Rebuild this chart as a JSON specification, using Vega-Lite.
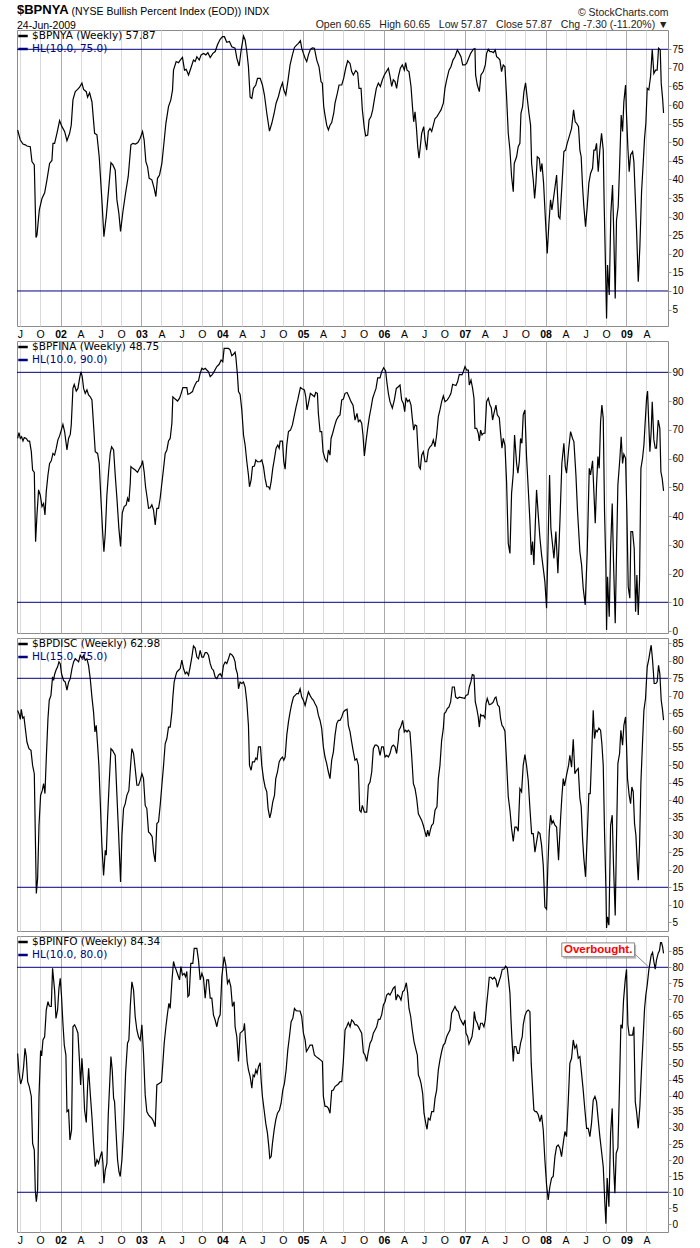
{
"$schema": "https://vega.github.io/schema/vega-lite/v6.json",
"background": "white",
"padding": {"left": 14, "top": 4, "right": 5, "bottom": 4},
"config": {
  "view": {"stroke": "#8c8c8c", "strokeWidth": 1},
  "font": "Liberation Sans",
  "axis": {"labelOverlap": false},
  "legend": {"title": null, "orient": "top-left", "offset": 0, "padding": 0, "symbolType": "stroke", "symbolSize": 90, "symbolStrokeWidth": 2.5, "labelFont": "DejaVu Sans", "labelFontSize": 10.5, "labelOffset": 3, "rowPadding": 1, "labelColor": "#000", "labelLimit": 300},
  "axisY": {"grid": true, "gridColor": "#d9d9d9", "domain": false, "ticks": true, "tickSize": 3, "tickColor": "#999", "labelPadding": 1, "labelFontSize": 10, "labelColor": "#000", "labelFont": "Liberation Sans", "labelFlush": false, "labelOverlap": false, "labelBound": false},
  "axisX": {"grid": true, "ticks": false, "domain": false, "labelPadding": 3, "labelFontSize": 10.5, "labelColor": "#000", "labelFont": "Liberation Sans", "labelFlush": false, "labelOverlap": false, "labelBound": false}
},
"datasets": {
"nya": [
{"yr":2001.469,"pct":53.3},{"yr":2001.502,"pct":50.6},{"yr":2001.535,"pct":49.5},{"yr":2001.564,"pct":49.3},{"yr":2001.584,"pct":49.0},{"yr":2001.625,"pct":48.8},{"yr":2001.646,"pct":44.8},{"yr":2001.675,"pct":43.9},{"yr":2001.696,"pct":24.4},{"yr":2001.708,"pct":25.0},{"yr":2001.737,"pct":31.8},{"yr":2001.770,"pct":34.9},{"yr":2001.803,"pct":36.4},{"yr":2001.831,"pct":39.8},{"yr":2001.864,"pct":44.3},{"yr":2001.893,"pct":45.1},{"yr":2001.906,"pct":49.7},{"yr":2001.926,"pct":49.7},{"yr":2001.955,"pct":52.4},{"yr":2001.988,"pct":55.8},{"yr":2002.017,"pct":54.2},{"yr":2002.050,"pct":52.9},{"yr":2002.079,"pct":50.4},{"yr":2002.112,"pct":52.4},{"yr":2002.132,"pct":54.6},{"yr":2002.153,"pct":61.4},{"yr":2002.182,"pct":63.6},{"yr":2002.211,"pct":64.2},{"yr":2002.235,"pct":64.8},{"yr":2002.264,"pct":65.9},{"yr":2002.285,"pct":64.2},{"yr":2002.318,"pct":63.6},{"yr":2002.334,"pct":62.1},{"yr":2002.359,"pct":63.3},{"yr":2002.388,"pct":60.9},{"yr":2002.421,"pct":52.4},{"yr":2002.450,"pct":52.0},{"yr":2002.478,"pct":46.1},{"yr":2002.511,"pct":34.5},{"yr":2002.536,"pct":24.6},{"yr":2002.565,"pct":30.0},{"yr":2002.594,"pct":37.2},{"yr":2002.623,"pct":44.5},{"yr":2002.647,"pct":43.9},{"yr":2002.676,"pct":42.5},{"yr":2002.697,"pct":34.5},{"yr":2002.721,"pct":30.9},{"yr":2002.742,"pct":26.0},{"yr":2002.771,"pct":31.3},{"yr":2002.804,"pct":36.3},{"yr":2002.837,"pct":40.8},{"yr":2002.870,"pct":49.3},{"yr":2002.894,"pct":49.7},{"yr":2002.927,"pct":49.5},{"yr":2002.956,"pct":49.9},{"yr":2002.985,"pct":51.1},{"yr":2003.014,"pct":52.9},{"yr":2003.034,"pct":50.6},{"yr":2003.055,"pct":44.8},{"yr":2003.076,"pct":43.4},{"yr":2003.096,"pct":40.3},{"yr":2003.129,"pct":39.9},{"yr":2003.158,"pct":37.6},{"yr":2003.179,"pct":35.4},{"yr":2003.199,"pct":40.3},{"yr":2003.224,"pct":41.2},{"yr":2003.253,"pct":44.3},{"yr":2003.274,"pct":48.8},{"yr":2003.303,"pct":55.1},{"yr":2003.335,"pct":59.6},{"yr":2003.364,"pct":61.4},{"yr":2003.385,"pct":64.1},{"yr":2003.397,"pct":69.4},{"yr":2003.430,"pct":71.7},{"yr":2003.459,"pct":71.4},{"yr":2003.480,"pct":72.1},{"yr":2003.508,"pct":72.8},{"yr":2003.533,"pct":69.4},{"yr":2003.554,"pct":69.6},{"yr":2003.583,"pct":68.1},{"yr":2003.611,"pct":69.9},{"yr":2003.644,"pct":72.1},{"yr":2003.665,"pct":71.7},{"yr":2003.686,"pct":73.0},{"yr":2003.715,"pct":72.1},{"yr":2003.739,"pct":73.5},{"yr":2003.768,"pct":73.9},{"yr":2003.797,"pct":73.5},{"yr":2003.822,"pct":74.1},{"yr":2003.851,"pct":72.8},{"yr":2003.884,"pct":73.9},{"yr":2003.913,"pct":74.4},{"yr":2003.941,"pct":76.2},{"yr":2003.974,"pct":77.7},{"yr":2004.003,"pct":78.4},{"yr":2004.027,"pct":78.4},{"yr":2004.056,"pct":76.9},{"yr":2004.089,"pct":77.1},{"yr":2004.118,"pct":75.7},{"yr":2004.159,"pct":75.3},
{"yr":2004.180,"pct":72.6},{"yr":2004.209,"pct":70.5},{"yr":2004.234,"pct":74.8},{"yr":2004.263,"pct":78.6},{"yr":2004.283,"pct":77.5},{"yr":2004.304,"pct":74.4},{"yr":2004.324,"pct":70.3},{"yr":2004.345,"pct":62.1},{"yr":2004.366,"pct":61.8},{"yr":2004.386,"pct":64.5},{"yr":2004.415,"pct":65.4},{"yr":2004.436,"pct":67.2},{"yr":2004.469,"pct":67.2},{"yr":2004.497,"pct":65.4},{"yr":2004.522,"pct":62.7},{"yr":2004.551,"pct":57.8},{"yr":2004.584,"pct":53.0},{"yr":2004.613,"pct":55.1},{"yr":2004.642,"pct":57.8},{"yr":2004.666,"pct":60.5},{"yr":2004.695,"pct":62.3},{"yr":2004.720,"pct":64.5},{"yr":2004.745,"pct":66.0},{"yr":2004.761,"pct":64.1},{"yr":2004.786,"pct":62.7},{"yr":2004.811,"pct":66.3},{"yr":2004.839,"pct":70.8},{"yr":2004.868,"pct":73.5},{"yr":2004.893,"pct":75.5},{"yr":2004.922,"pct":76.2},{"yr":2004.942,"pct":76.6},{"yr":2004.967,"pct":77.3},{"yr":2004.983,"pct":75.3},{"yr":2005.004,"pct":73.9},{"yr":2005.025,"pct":72.6},{"yr":2005.045,"pct":71.7},{"yr":2005.066,"pct":73.5},{"yr":2005.090,"pct":75.0},{"yr":2005.115,"pct":75.4},{"yr":2005.140,"pct":75.3},{"yr":2005.169,"pct":72.1},{"yr":2005.197,"pct":70.3},{"yr":2005.222,"pct":66.3},{"yr":2005.238,"pct":65.9},{"yr":2005.255,"pct":59.6},{"yr":2005.271,"pct":57.3},{"yr":2005.292,"pct":54.6},{"yr":2005.313,"pct":53.3},{"yr":2005.333,"pct":54.6},{"yr":2005.354,"pct":55.3},{"yr":2005.379,"pct":57.8},{"yr":2005.395,"pct":60.5},{"yr":2005.424,"pct":63.2},{"yr":2005.445,"pct":65.4},{"yr":2005.478,"pct":65.4},{"yr":2005.502,"pct":67.2},{"yr":2005.527,"pct":69.9},{"yr":2005.552,"pct":71.9},{"yr":2005.581,"pct":71.2},{"yr":2005.601,"pct":69.0},{"yr":2005.622,"pct":68.1},{"yr":2005.651,"pct":69.3},{"yr":2005.675,"pct":68.7},{"yr":2005.692,"pct":64.5},{"yr":2005.717,"pct":64.5},{"yr":2005.733,"pct":58.7},{"yr":2005.758,"pct":53.7},{"yr":2005.774,"pct":51.7},{"yr":2005.799,"pct":51.9},{"yr":2005.816,"pct":56.0},{"yr":2005.840,"pct":56.9},{"yr":2005.861,"pct":58.7},{"yr":2005.881,"pct":61.4},{"yr":2005.906,"pct":64.5},{"yr":2005.931,"pct":65.9},{"yr":2005.956,"pct":65.0},{"yr":2005.981,"pct":66.8},{"yr":2006.005,"pct":68.1},{"yr":2006.030,"pct":69.0},{"yr":2006.055,"pct":69.9},{"yr":2006.075,"pct":67.8},{"yr":2006.096,"pct":65.0},{"yr":2006.116,"pct":66.8},{"yr":2006.137,"pct":66.3},{"yr":2006.157,"pct":64.5},{"yr":2006.178,"pct":67.6},{"yr":2006.203,"pct":69.9},{"yr":2006.228,"pct":70.8},{"yr":2006.252,"pct":69.4},{"yr":2006.269,"pct":71.4},{"yr":2006.286,"pct":69.4},{"yr":2006.310,"pct":69.0},{"yr":2006.335,"pct":65.0},{"yr":2006.356,"pct":58.7},{"yr":2006.368,"pct":55.5},{"yr":2006.385,"pct":58.2},{"yr":2006.401,"pct":54.2},{"yr":2006.418,"pct":48.8},{"yr":2006.434,"pct":45.7},{"yr":2006.450,"pct":48.8},{"yr":2006.467,"pct":52.4},{"yr":2006.492,"pct":54.2},{"yr":2006.508,"pct":50.6},{"yr":2006.529,"pct":47.9},{"yr":2006.549,"pct":52.9},{"yr":2006.570,"pct":53.7},{"yr":2006.591,"pct":52.9},{"yr":2006.611,"pct":54.6},{"yr":2006.632,"pct":56.4},{"yr":2006.656,"pct":56.9},{"yr":2006.681,"pct":57.8},{"yr":2006.706,"pct":58.7},{"yr":2006.735,"pct":60.5},{"yr":2006.755,"pct":64.5},{"yr":2006.776,"pct":66.8},{"yr":2006.805,"pct":69.4},{"yr":2006.829,"pct":70.3},{"yr":2006.854,"pct":72.1},{"yr":2006.879,"pct":73.0},{"yr":2006.908,"pct":74.8},{"yr":2006.932,"pct":73.9},
{"yr":2006.953,"pct":73.0},{"yr":2006.974,"pct":70.8},{"yr":2007.003,"pct":70.8},{"yr":2007.023,"pct":71.2},{"yr":2007.048,"pct":72.6},{"yr":2007.073,"pct":73.9},{"yr":2007.106,"pct":75.0},{"yr":2007.126,"pct":75.2},{"yr":2007.134,"pct":68.1},{"yr":2007.155,"pct":65.4},{"yr":2007.180,"pct":63.6},{"yr":2007.200,"pct":68.1},{"yr":2007.229,"pct":69.0},{"yr":2007.254,"pct":70.8},{"yr":2007.270,"pct":73.9},{"yr":2007.291,"pct":75.0},{"yr":2007.311,"pct":74.4},{"yr":2007.332,"pct":74.4},{"yr":2007.353,"pct":74.1},{"yr":2007.377,"pct":74.8},{"yr":2007.394,"pct":73.0},{"yr":2007.418,"pct":72.6},{"yr":2007.435,"pct":72.1},{"yr":2007.455,"pct":69.0},{"yr":2007.476,"pct":70.8},{"yr":2007.497,"pct":70.3},{"yr":2007.517,"pct":62.3},{"yr":2007.538,"pct":52.4},{"yr":2007.559,"pct":47.9},{"yr":2007.579,"pct":40.8},{"yr":2007.600,"pct":36.7},{"yr":2007.612,"pct":44.3},{"yr":2007.641,"pct":46.1},{"yr":2007.661,"pct":48.8},{"yr":2007.682,"pct":49.7},{"yr":2007.695,"pct":57.8},{"yr":2007.715,"pct":59.6},{"yr":2007.732,"pct":63.6},{"yr":2007.752,"pct":66.0},{"yr":2007.773,"pct":61.8},{"yr":2007.794,"pct":57.8},{"yr":2007.814,"pct":54.6},{"yr":2007.827,"pct":44.3},{"yr":2007.847,"pct":39.9},{"yr":2007.864,"pct":34.9},{"yr":2007.880,"pct":39.0},{"yr":2007.897,"pct":46.1},{"yr":2007.922,"pct":45.6},{"yr":2007.938,"pct":42.1},{"yr":2007.955,"pct":44.3},{"yr":2007.975,"pct":39.0},{"yr":2007.996,"pct":30.0},{"yr":2008.020,"pct":20.1},{"yr":2008.041,"pct":28.2},{"yr":2008.061,"pct":34.5},{"yr":2008.078,"pct":31.8},{"yr":2008.103,"pct":35.8},{"yr":2008.136,"pct":41.2},{"yr":2008.160,"pct":30.0},{"yr":2008.177,"pct":29.5},{"yr":2008.201,"pct":38.1},{"yr":2008.226,"pct":47.5},{"yr":2008.247,"pct":47.9},{"yr":2008.267,"pct":49.7},{"yr":2008.292,"pct":51.5},{"yr":2008.321,"pct":53.7},{"yr":2008.346,"pct":58.7},{"yr":2008.366,"pct":55.5},{"yr":2008.383,"pct":55.1},{"yr":2008.407,"pct":54.2},{"yr":2008.424,"pct":47.9},{"yr":2008.440,"pct":46.1},{"yr":2008.457,"pct":38.1},{"yr":2008.473,"pct":32.7},{"yr":2008.494,"pct":27.3},{"yr":2008.515,"pct":32.7},{"yr":2008.535,"pct":39.0},{"yr":2008.556,"pct":41.6},{"yr":2008.581,"pct":43.0},{"yr":2008.597,"pct":47.9},{"yr":2008.614,"pct":47.9},{"yr":2008.630,"pct":49.7},{"yr":2008.651,"pct":42.1},{"yr":2008.671,"pct":47.9},{"yr":2008.692,"pct":52.4},{"yr":2008.713,"pct":47.9},{"yr":2008.725,"pct":32.7},{"yr":2008.741,"pct":16.5},{"yr":2008.754,"pct":2.6},{"yr":2008.766,"pct":17.0},{"yr":2008.787,"pct":8.9},{"yr":2008.807,"pct":30.9},{"yr":2008.828,"pct":38.5},{"yr":2008.845,"pct":23.7},{"yr":2008.861,"pct":8.0},{"yr":2008.877,"pct":29.1},{"yr":2008.898,"pct":32.7},{"yr":2008.915,"pct":43.4},{"yr":2008.935,"pct":57.3},{"yr":2008.952,"pct":52.9},{"yr":2008.968,"pct":60.9},{"yr":2008.989,"pct":65.4},{"yr":2009.001,"pct":57.3},{"yr":2009.018,"pct":48.4},{"yr":2009.034,"pct":42.1},{"yr":2009.051,"pct":46.6},{"yr":2009.076,"pct":47.5},{"yr":2009.092,"pct":44.8},{"yr":2009.109,"pct":35.4},{"yr":2009.125,"pct":26.4},{"yr":2009.146,"pct":12.5},{"yr":2009.166,"pct":21.9},{"yr":2009.187,"pct":36.7},{"yr":2009.207,"pct":44.3},{"yr":2009.224,"pct":51.1},{"yr":2009.240,"pct":55.1},{"yr":2009.257,"pct":64.5},{"yr":2009.277,"pct":64.1},{"yr":2009.298,"pct":67.6},{"yr":2009.319,"pct":75.0},{"yr":2009.339,"pct":68.5},{"yr":2009.360,"pct":69.4},{"yr":2009.380,"pct":69.4},{"yr":2009.397,"pct":75.3},{"yr":2009.418,"pct":74.8},{"yr":2009.430,"pct":65.9},{"yr":2009.447,"pct":61.8},{"yr":2009.459,"pct":57.87}
],
"fina": [
{"yr":2001.469,"pct":67.0},{"yr":2001.485,"pct":69.0},{"yr":2001.502,"pct":67.0},{"yr":2001.518,"pct":67.6},{"yr":2001.535,"pct":66.1},{"yr":2001.551,"pct":67.3},{"yr":2001.576,"pct":67.0},{"yr":2001.597,"pct":66.1},{"yr":2001.617,"pct":66.1},{"yr":2001.638,"pct":62.4},{"yr":2001.654,"pct":56.0},{"yr":2001.675,"pct":55.2},{"yr":2001.691,"pct":31.1},{"yr":2001.708,"pct":40.4},{"yr":2001.728,"pct":49.1},{"yr":2001.749,"pct":47.3},{"yr":2001.770,"pct":43.3},{"yr":2001.790,"pct":44.4},{"yr":2001.807,"pct":40.4},{"yr":2001.823,"pct":48.5},{"yr":2001.844,"pct":54.3},{"yr":2001.864,"pct":58.3},{"yr":2001.885,"pct":59.2},{"yr":2001.906,"pct":61.8},{"yr":2001.926,"pct":61.2},{"yr":2001.947,"pct":63.6},{"yr":2001.967,"pct":66.5},{"yr":2001.988,"pct":67.9},{"yr":2002.009,"pct":69.9},{"yr":2002.029,"pct":71.9},{"yr":2002.050,"pct":69.4},{"yr":2002.079,"pct":63.0},{"yr":2002.099,"pct":67.0},{"yr":2002.120,"pct":68.4},{"yr":2002.132,"pct":71.7},{"yr":2002.153,"pct":84.4},{"yr":2002.169,"pct":85.8},{"yr":2002.194,"pct":83.5},{"yr":2002.215,"pct":84.4},{"yr":2002.235,"pct":87.9},{"yr":2002.252,"pct":90.2},{"yr":2002.268,"pct":88.5},{"yr":2002.285,"pct":84.4},{"yr":2002.305,"pct":82.7},{"yr":2002.326,"pct":83.9},{"yr":2002.346,"pct":82.1},{"yr":2002.367,"pct":81.5},{"yr":2002.388,"pct":80.4},{"yr":2002.408,"pct":71.7},{"yr":2002.429,"pct":62.4},{"yr":2002.458,"pct":61.8},{"yr":2002.478,"pct":58.3},{"yr":2002.499,"pct":46.2},{"yr":2002.520,"pct":34.6},{"yr":2002.536,"pct":27.6},{"yr":2002.553,"pct":34.0},{"yr":2002.573,"pct":47.3},{"yr":2002.594,"pct":55.4},{"yr":2002.614,"pct":61.8},{"yr":2002.631,"pct":64.1},{"yr":2002.656,"pct":63.0},{"yr":2002.676,"pct":54.3},{"yr":2002.697,"pct":46.2},{"yr":2002.721,"pct":35.8},{"yr":2002.742,"pct":29.4},{"yr":2002.763,"pct":41.0},{"yr":2002.787,"pct":43.3},{"yr":2002.812,"pct":43.9},{"yr":2002.829,"pct":46.2},{"yr":2002.845,"pct":45.0},{"yr":2002.862,"pct":51.4},{"yr":2002.870,"pct":57.2},{"yr":2002.894,"pct":56.6},{"yr":2002.923,"pct":56.0},{"yr":2002.952,"pct":55.2},{"yr":2002.977,"pct":56.6},{"yr":2003.002,"pct":57.8},{"yr":2003.014,"pct":59.3},{"yr":2003.034,"pct":55.4},{"yr":2003.051,"pct":50.2},{"yr":2003.072,"pct":46.2},{"yr":2003.088,"pct":42.7},{"yr":2003.109,"pct":42.9},{"yr":2003.129,"pct":43.9},{"yr":2003.150,"pct":42.1},{"yr":2003.171,"pct":36.9},{"yr":2003.191,"pct":42.7},{"yr":2003.212,"pct":42.7},{"yr":2003.232,"pct":46.2},{"yr":2003.253,"pct":51.4},{"yr":2003.274,"pct":56.6},{"yr":2003.294,"pct":61.8},{"yr":2003.315,"pct":63.0},{"yr":2003.335,"pct":66.1},{"yr":2003.356,"pct":67.0},{"yr":2003.377,"pct":72.3},{"yr":2003.389,"pct":81.5},{"yr":2003.418,"pct":80.7},{"yr":2003.447,"pct":80.0},{"yr":2003.472,"pct":81.0},{"yr":2003.492,"pct":82.7},{"yr":2003.513,"pct":84.7},{"yr":2003.542,"pct":84.7},{"yr":2003.562,"pct":84.7},{"yr":2003.575,"pct":82.3},{"yr":2003.604,"pct":82.7},{"yr":2003.632,"pct":83.3},{"yr":2003.644,"pct":84.4},{"yr":2003.665,"pct":85.8},{"yr":2003.686,"pct":86.8},{"yr":2003.706,"pct":87.0},{"yr":2003.727,"pct":89.7},{"yr":2003.748,"pct":91.4},{"yr":2003.768,"pct":91.0},{"yr":2003.789,"pct":91.4},{"yr":2003.809,"pct":90.8},{"yr":2003.830,"pct":90.2},{"yr":2003.851,"pct":88.5},{"yr":2003.879,"pct":89.3},{"yr":2003.904,"pct":90.5},{"yr":2003.933,"pct":92.0},{"yr":2003.962,"pct":92.8},{"yr":2003.986,"pct":94.3},{"yr":2004.007,"pct":93.7},{"yr":2004.023,"pct":98.3},{"yr":2004.048,"pct":98.3},{"yr":2004.077,"pct":98.3},{"yr":2004.097,"pct":97.8},{"yr":2004.118,"pct":95.8},{"yr":2004.139,"pct":96.3},{"yr":2004.159,"pct":97.0},
{"yr":2004.168,"pct":95.4},{"yr":2004.188,"pct":89.1},{"yr":2004.201,"pct":83.3},{"yr":2004.221,"pct":82.3},{"yr":2004.242,"pct":76.9},{"yr":2004.263,"pct":68.2},{"yr":2004.283,"pct":64.7},{"yr":2004.304,"pct":58.9},{"yr":2004.324,"pct":54.3},{"yr":2004.337,"pct":50.2},{"yr":2004.357,"pct":52.6},{"yr":2004.374,"pct":57.2},{"yr":2004.398,"pct":57.4},{"yr":2004.415,"pct":59.5},{"yr":2004.436,"pct":58.9},{"yr":2004.469,"pct":58.9},{"yr":2004.489,"pct":59.5},{"yr":2004.510,"pct":57.2},{"yr":2004.530,"pct":53.1},{"yr":2004.551,"pct":50.2},{"yr":2004.572,"pct":50.2},{"yr":2004.588,"pct":49.4},{"yr":2004.605,"pct":52.0},{"yr":2004.625,"pct":56.6},{"yr":2004.646,"pct":60.1},{"yr":2004.666,"pct":63.6},{"yr":2004.687,"pct":64.7},{"yr":2004.704,"pct":63.6},{"yr":2004.716,"pct":66.1},{"yr":2004.745,"pct":66.1},{"yr":2004.761,"pct":58.9},{"yr":2004.778,"pct":56.3},{"yr":2004.798,"pct":64.7},{"yr":2004.819,"pct":69.4},{"yr":2004.844,"pct":69.9},{"yr":2004.868,"pct":71.7},{"yr":2004.893,"pct":75.2},{"yr":2004.914,"pct":78.1},{"yr":2004.934,"pct":80.4},{"yr":2004.951,"pct":82.7},{"yr":2004.967,"pct":84.7},{"yr":2004.992,"pct":84.2},{"yr":2005.016,"pct":83.9},{"yr":2005.033,"pct":81.5},{"yr":2005.049,"pct":76.9},{"yr":2005.066,"pct":79.2},{"yr":2005.090,"pct":82.7},{"yr":2005.115,"pct":82.1},{"yr":2005.140,"pct":81.5},{"yr":2005.156,"pct":83.0},{"yr":2005.177,"pct":82.7},{"yr":2005.189,"pct":75.7},{"yr":2005.210,"pct":69.4},{"yr":2005.230,"pct":69.4},{"yr":2005.247,"pct":62.4},{"yr":2005.271,"pct":59.9},{"yr":2005.296,"pct":58.9},{"yr":2005.313,"pct":63.0},{"yr":2005.333,"pct":61.2},{"yr":2005.346,"pct":67.0},{"yr":2005.366,"pct":68.8},{"yr":2005.387,"pct":71.1},{"yr":2005.412,"pct":73.4},{"yr":2005.436,"pct":74.6},{"yr":2005.457,"pct":75.2},{"yr":2005.478,"pct":80.4},{"yr":2005.498,"pct":80.7},{"yr":2005.519,"pct":82.7},{"yr":2005.544,"pct":83.0},{"yr":2005.568,"pct":81.5},{"yr":2005.593,"pct":79.8},{"yr":2005.618,"pct":78.6},{"yr":2005.642,"pct":73.4},{"yr":2005.667,"pct":75.7},{"yr":2005.684,"pct":72.8},{"yr":2005.704,"pct":73.4},{"yr":2005.725,"pct":72.3},{"yr":2005.741,"pct":68.2},{"yr":2005.758,"pct":60.9},{"yr":2005.778,"pct":65.9},{"yr":2005.799,"pct":70.5},{"yr":2005.820,"pct":74.6},{"yr":2005.840,"pct":77.5},{"yr":2005.861,"pct":81.0},{"yr":2005.881,"pct":82.7},{"yr":2005.902,"pct":84.4},{"yr":2005.923,"pct":88.1},{"yr":2005.951,"pct":88.1},{"yr":2005.972,"pct":90.2},{"yr":2005.997,"pct":91.6},{"yr":2006.021,"pct":90.5},{"yr":2006.038,"pct":86.2},{"yr":2006.055,"pct":82.7},{"yr":2006.075,"pct":79.8},{"yr":2006.104,"pct":77.5},{"yr":2006.129,"pct":80.4},{"yr":2006.153,"pct":84.4},{"yr":2006.178,"pct":85.0},{"yr":2006.199,"pct":85.6},{"yr":2006.219,"pct":80.4},{"yr":2006.240,"pct":79.2},{"yr":2006.257,"pct":76.3},{"yr":2006.273,"pct":81.2},{"yr":2006.294,"pct":79.8},{"yr":2006.314,"pct":80.4},{"yr":2006.335,"pct":78.6},{"yr":2006.351,"pct":74.0},{"yr":2006.368,"pct":69.9},{"yr":2006.385,"pct":71.7},{"yr":2006.405,"pct":71.4},{"yr":2006.418,"pct":64.7},{"yr":2006.434,"pct":57.2},{"yr":2006.450,"pct":56.4},{"yr":2006.467,"pct":61.2},{"yr":2006.487,"pct":62.4},{"yr":2006.508,"pct":58.9},{"yr":2006.529,"pct":58.9},{"yr":2006.549,"pct":63.0},{"yr":2006.570,"pct":64.1},{"yr":2006.591,"pct":64.7},{"yr":2006.611,"pct":66.5},{"yr":2006.632,"pct":64.1},{"yr":2006.652,"pct":68.2},{"yr":2006.673,"pct":74.6},{"yr":2006.693,"pct":76.9},{"yr":2006.714,"pct":79.8},{"yr":2006.735,"pct":81.8},{"yr":2006.755,"pct":79.8},{"yr":2006.784,"pct":80.4},{"yr":2006.809,"pct":81.5},{"yr":2006.829,"pct":82.7},{"yr":2006.850,"pct":85.8},{"yr":2006.871,"pct":85.6},{"yr":2006.891,"pct":85.4},{"yr":2006.912,"pct":86.8},{"yr":2006.932,"pct":89.3},
{"yr":2006.965,"pct":89.1},{"yr":2006.982,"pct":90.2},{"yr":2007.003,"pct":92.0},{"yr":2007.023,"pct":90.8},{"yr":2007.044,"pct":90.8},{"yr":2007.056,"pct":85.6},{"yr":2007.077,"pct":87.3},{"yr":2007.097,"pct":84.4},{"yr":2007.114,"pct":81.0},{"yr":2007.126,"pct":70.5},{"yr":2007.147,"pct":70.5},{"yr":2007.167,"pct":68.8},{"yr":2007.180,"pct":66.1},{"yr":2007.196,"pct":69.9},{"yr":2007.213,"pct":68.2},{"yr":2007.229,"pct":68.8},{"yr":2007.250,"pct":68.8},{"yr":2007.270,"pct":79.8},{"yr":2007.291,"pct":81.0},{"yr":2007.311,"pct":78.6},{"yr":2007.328,"pct":77.7},{"yr":2007.344,"pct":73.4},{"yr":2007.361,"pct":75.7},{"yr":2007.386,"pct":78.6},{"yr":2007.402,"pct":75.2},{"yr":2007.427,"pct":74.2},{"yr":2007.443,"pct":68.8},{"yr":2007.460,"pct":63.6},{"yr":2007.476,"pct":67.0},{"yr":2007.497,"pct":64.7},{"yr":2007.517,"pct":52.0},{"yr":2007.538,"pct":30.5},{"yr":2007.559,"pct":27.0},{"yr":2007.579,"pct":47.9},{"yr":2007.600,"pct":54.9},{"yr":2007.616,"pct":68.2},{"yr":2007.641,"pct":58.3},{"yr":2007.657,"pct":54.9},{"yr":2007.674,"pct":58.9},{"yr":2007.690,"pct":67.0},{"yr":2007.707,"pct":65.3},{"yr":2007.723,"pct":75.2},{"yr":2007.744,"pct":76.9},{"yr":2007.764,"pct":60.7},{"yr":2007.785,"pct":49.7},{"yr":2007.806,"pct":38.1},{"yr":2007.822,"pct":26.5},{"yr":2007.839,"pct":31.1},{"yr":2007.855,"pct":23.0},{"yr":2007.872,"pct":36.9},{"yr":2007.888,"pct":49.1},{"yr":2007.909,"pct":40.4},{"yr":2007.930,"pct":32.3},{"yr":2007.950,"pct":26.5},{"yr":2007.971,"pct":21.8},{"yr":2007.991,"pct":17.2},{"yr":2008.012,"pct":7.9},{"yr":2008.028,"pct":27.6},{"yr":2008.049,"pct":54.3},{"yr":2008.065,"pct":35.8},{"yr":2008.082,"pct":31.1},{"yr":2008.103,"pct":25.3},{"yr":2008.127,"pct":34.6},{"yr":2008.152,"pct":20.1},{"yr":2008.177,"pct":38.1},{"yr":2008.201,"pct":58.3},{"yr":2008.226,"pct":65.3},{"yr":2008.243,"pct":57.2},{"yr":2008.259,"pct":54.9},{"yr":2008.284,"pct":63.0},{"yr":2008.309,"pct":69.4},{"yr":2008.333,"pct":67.0},{"yr":2008.350,"pct":65.9},{"yr":2008.375,"pct":54.3},{"yr":2008.395,"pct":41.6},{"yr":2008.424,"pct":27.6},{"yr":2008.445,"pct":23.0},{"yr":2008.465,"pct":14.9},{"yr":2008.490,"pct":9.1},{"yr":2008.515,"pct":27.6},{"yr":2008.540,"pct":56.6},{"yr":2008.556,"pct":54.3},{"yr":2008.581,"pct":59.2},{"yr":2008.597,"pct":48.5},{"yr":2008.614,"pct":37.5},{"yr":2008.630,"pct":50.8},{"yr":2008.647,"pct":60.7},{"yr":2008.663,"pct":56.6},{"yr":2008.680,"pct":72.8},{"yr":2008.696,"pct":78.6},{"yr":2008.713,"pct":74.0},{"yr":2008.729,"pct":41.6},{"yr":2008.746,"pct":21.8},{"yr":2008.754,"pct":0.4},{"yr":2008.766,"pct":18.9},{"yr":2008.787,"pct":5.0},{"yr":2008.804,"pct":28.7},{"yr":2008.824,"pct":44.4},{"yr":2008.840,"pct":24.1},{"yr":2008.861,"pct":2.7},{"yr":2008.877,"pct":26.5},{"yr":2008.894,"pct":50.8},{"yr":2008.919,"pct":60.1},{"yr":2008.935,"pct":67.6},{"yr":2008.952,"pct":58.3},{"yr":2008.968,"pct":61.5},{"yr":2008.989,"pct":60.1},{"yr":2009.005,"pct":41.6},{"yr":2009.022,"pct":15.4},{"yr":2009.042,"pct":11.4},{"yr":2009.055,"pct":34.6},{"yr":2009.076,"pct":34.6},{"yr":2009.096,"pct":28.7},{"yr":2009.113,"pct":6.7},{"yr":2009.129,"pct":19.5},{"yr":2009.146,"pct":5.6},{"yr":2009.162,"pct":17.8},{"yr":2009.179,"pct":56.6},{"yr":2009.199,"pct":60.1},{"yr":2009.216,"pct":64.7},{"yr":2009.232,"pct":72.8},{"yr":2009.249,"pct":81.0},{"yr":2009.261,"pct":83.5},{"yr":2009.277,"pct":71.7},{"yr":2009.290,"pct":62.4},{"yr":2009.306,"pct":69.4},{"yr":2009.319,"pct":79.8},{"yr":2009.339,"pct":66.5},{"yr":2009.356,"pct":63.6},{"yr":2009.372,"pct":63.6},{"yr":2009.393,"pct":73.4},{"yr":2009.413,"pct":70.5},{"yr":2009.426,"pct":55.4},{"yr":2009.442,"pct":53.1},{"yr":2009.459,"pct":48.75}
],
"disc": [
{"yr":2001.469,"pct":65.8},{"yr":2001.489,"pct":64.6},{"yr":2001.502,"pct":63.2},{"yr":2001.514,"pct":66.1},{"yr":2001.531,"pct":63.6},{"yr":2001.547,"pct":63.9},{"yr":2001.564,"pct":60.6},{"yr":2001.584,"pct":56.7},{"yr":2001.609,"pct":54.8},{"yr":2001.634,"pct":54.3},{"yr":2001.654,"pct":50.0},{"yr":2001.675,"pct":47.6},{"yr":2001.687,"pct":30.9},{"yr":2001.700,"pct":13.2},{"yr":2001.716,"pct":17.5},{"yr":2001.733,"pct":32.8},{"yr":2001.753,"pct":41.4},{"yr":2001.774,"pct":42.8},{"yr":2001.790,"pct":44.8},{"yr":2001.807,"pct":41.9},{"yr":2001.823,"pct":51.9},{"yr":2001.844,"pct":63.4},{"yr":2001.860,"pct":68.7},{"yr":2001.881,"pct":70.1},{"yr":2001.901,"pct":75.4},{"yr":2001.914,"pct":74.4},{"yr":2001.926,"pct":76.1},{"yr":2001.943,"pct":77.3},{"yr":2001.963,"pct":78.3},{"yr":2001.980,"pct":79.7},{"yr":2001.996,"pct":79.2},{"yr":2002.012,"pct":76.3},{"yr":2002.037,"pct":74.4},{"yr":2002.058,"pct":73.9},{"yr":2002.079,"pct":71.6},{"yr":2002.099,"pct":73.9},{"yr":2002.120,"pct":74.9},{"yr":2002.141,"pct":77.8},{"yr":2002.161,"pct":79.7},{"yr":2002.182,"pct":80.6},{"yr":2002.202,"pct":80.2},{"yr":2002.223,"pct":79.7},{"yr":2002.243,"pct":81.6},{"yr":2002.264,"pct":80.8},{"yr":2002.285,"pct":81.6},{"yr":2002.305,"pct":80.2},{"yr":2002.326,"pct":80.6},{"yr":2002.346,"pct":78.7},{"yr":2002.367,"pct":74.9},{"yr":2002.388,"pct":69.6},{"yr":2002.408,"pct":65.3},{"yr":2002.425,"pct":59.6},{"yr":2002.441,"pct":61.5},{"yr":2002.458,"pct":55.8},{"yr":2002.474,"pct":50.0},{"yr":2002.491,"pct":39.5},{"yr":2002.511,"pct":27.1},{"yr":2002.532,"pct":18.4},{"yr":2002.553,"pct":25.6},{"yr":2002.565,"pct":24.2},{"yr":2002.581,"pct":34.7},{"yr":2002.602,"pct":45.2},{"yr":2002.623,"pct":54.8},{"yr":2002.643,"pct":54.3},{"yr":2002.664,"pct":53.4},{"yr":2002.676,"pct":52.9},{"yr":2002.697,"pct":41.4},{"yr":2002.717,"pct":30.9},{"yr":2002.742,"pct":16.5},{"yr":2002.759,"pct":29.9},{"yr":2002.779,"pct":37.6},{"yr":2002.800,"pct":39.0},{"yr":2002.820,"pct":41.4},{"yr":2002.845,"pct":42.8},{"yr":2002.862,"pct":48.6},{"yr":2002.882,"pct":54.8},{"yr":2002.903,"pct":53.4},{"yr":2002.923,"pct":49.1},{"yr":2002.944,"pct":44.3},{"yr":2002.965,"pct":44.3},{"yr":2002.985,"pct":45.7},{"yr":2003.006,"pct":47.6},{"yr":2003.026,"pct":46.2},{"yr":2003.047,"pct":38.5},{"yr":2003.067,"pct":37.6},{"yr":2003.088,"pct":30.9},{"yr":2003.109,"pct":30.4},{"yr":2003.133,"pct":29.5},{"yr":2003.150,"pct":25.1},{"yr":2003.171,"pct":22.3},{"yr":2003.191,"pct":33.3},{"yr":2003.212,"pct":33.8},{"yr":2003.232,"pct":38.5},{"yr":2003.253,"pct":44.3},{"yr":2003.274,"pct":50.0},{"yr":2003.294,"pct":56.2},{"yr":2003.315,"pct":57.7},{"yr":2003.335,"pct":61.0},{"yr":2003.356,"pct":61.0},{"yr":2003.377,"pct":65.3},{"yr":2003.389,"pct":69.6},{"yr":2003.405,"pct":73.9},{"yr":2003.426,"pct":75.9},{"yr":2003.438,"pct":76.8},{"yr":2003.459,"pct":77.3},{"yr":2003.480,"pct":77.8},{"yr":2003.500,"pct":80.2},{"yr":2003.521,"pct":77.8},{"yr":2003.542,"pct":76.3},{"yr":2003.562,"pct":76.8},{"yr":2003.583,"pct":75.9},{"yr":2003.603,"pct":78.3},{"yr":2003.624,"pct":81.1},{"yr":2003.644,"pct":84.3},{"yr":2003.665,"pct":83.7},{"yr":2003.686,"pct":81.1},{"yr":2003.706,"pct":80.6},{"yr":2003.727,"pct":83.0},{"yr":2003.748,"pct":81.1},{"yr":2003.768,"pct":81.1},{"yr":2003.789,"pct":82.4},{"yr":2003.809,"pct":82.4},{"yr":2003.830,"pct":81.6},{"yr":2003.851,"pct":79.2},{"yr":2003.871,"pct":77.8},{"yr":2003.891,"pct":77.3},{"yr":2003.912,"pct":75.4},{"yr":2003.933,"pct":74.9},{"yr":2003.953,"pct":75.9},{"yr":2003.974,"pct":76.3},{"yr":2003.995,"pct":75.4},{"yr":2004.015,"pct":78.7},{"yr":2004.036,"pct":79.7},{"yr":2004.056,"pct":79.2},{"yr":2004.077,"pct":80.6},{"yr":2004.097,"pct":82.1},{"yr":2004.118,"pct":81.8},{"yr":2004.139,"pct":81.1},{"yr":2004.159,"pct":79.7},
{"yr":2004.168,"pct":77.8},{"yr":2004.188,"pct":76.3},{"yr":2004.201,"pct":72.0},{"yr":2004.221,"pct":73.9},{"yr":2004.242,"pct":73.5},{"yr":2004.263,"pct":73.9},{"yr":2004.283,"pct":72.5},{"yr":2004.304,"pct":68.2},{"yr":2004.324,"pct":61.5},{"yr":2004.337,"pct":50.0},{"yr":2004.357,"pct":48.6},{"yr":2004.374,"pct":51.0},{"yr":2004.398,"pct":51.0},{"yr":2004.415,"pct":52.1},{"yr":2004.431,"pct":51.7},{"yr":2004.448,"pct":55.3},{"yr":2004.473,"pct":55.3},{"yr":2004.489,"pct":50.0},{"yr":2004.510,"pct":46.2},{"yr":2004.530,"pct":43.8},{"yr":2004.551,"pct":42.4},{"yr":2004.567,"pct":37.6},{"yr":2004.588,"pct":34.9},{"yr":2004.605,"pct":36.6},{"yr":2004.625,"pct":39.5},{"yr":2004.646,"pct":41.4},{"yr":2004.662,"pct":46.2},{"yr":2004.683,"pct":48.1},{"yr":2004.704,"pct":51.0},{"yr":2004.724,"pct":51.9},{"yr":2004.745,"pct":52.4},{"yr":2004.761,"pct":51.5},{"yr":2004.778,"pct":52.4},{"yr":2004.798,"pct":58.6},{"yr":2004.819,"pct":62.5},{"yr":2004.839,"pct":65.3},{"yr":2004.860,"pct":67.7},{"yr":2004.881,"pct":69.6},{"yr":2004.901,"pct":70.1},{"yr":2004.922,"pct":70.6},{"yr":2004.942,"pct":70.6},{"yr":2004.963,"pct":72.0},{"yr":2004.983,"pct":69.6},{"yr":2005.004,"pct":68.7},{"yr":2005.025,"pct":67.2},{"yr":2005.045,"pct":69.2},{"yr":2005.066,"pct":71.1},{"yr":2005.086,"pct":70.1},{"yr":2005.107,"pct":69.2},{"yr":2005.128,"pct":68.7},{"yr":2005.148,"pct":67.7},{"yr":2005.169,"pct":66.8},{"yr":2005.189,"pct":64.4},{"yr":2005.210,"pct":62.9},{"yr":2005.230,"pct":60.6},{"yr":2005.251,"pct":55.3},{"yr":2005.271,"pct":52.4},{"yr":2005.292,"pct":50.5},{"yr":2005.313,"pct":48.1},{"yr":2005.333,"pct":46.2},{"yr":2005.354,"pct":51.5},{"yr":2005.375,"pct":53.9},{"yr":2005.395,"pct":58.6},{"yr":2005.416,"pct":62.0},{"yr":2005.436,"pct":62.9},{"yr":2005.457,"pct":62.9},{"yr":2005.478,"pct":63.9},{"yr":2005.498,"pct":65.3},{"yr":2005.519,"pct":65.8},{"yr":2005.544,"pct":66.1},{"yr":2005.560,"pct":61.5},{"yr":2005.581,"pct":59.6},{"yr":2005.601,"pct":56.7},{"yr":2005.622,"pct":53.9},{"yr":2005.642,"pct":51.5},{"yr":2005.663,"pct":51.9},{"yr":2005.684,"pct":50.0},{"yr":2005.700,"pct":37.1},{"yr":2005.717,"pct":36.6},{"yr":2005.733,"pct":38.5},{"yr":2005.758,"pct":36.6},{"yr":2005.787,"pct":36.6},{"yr":2005.807,"pct":44.3},{"yr":2005.828,"pct":45.2},{"yr":2005.849,"pct":48.1},{"yr":2005.869,"pct":54.8},{"yr":2005.890,"pct":55.8},{"yr":2005.910,"pct":55.8},{"yr":2005.931,"pct":55.3},{"yr":2005.952,"pct":52.9},{"yr":2005.972,"pct":55.3},{"yr":2005.993,"pct":55.3},{"yr":2006.014,"pct":52.4},{"yr":2006.034,"pct":52.9},{"yr":2006.055,"pct":52.4},{"yr":2006.075,"pct":53.4},{"yr":2006.096,"pct":55.3},{"yr":2006.116,"pct":55.8},{"yr":2006.137,"pct":55.3},{"yr":2006.157,"pct":53.4},{"yr":2006.178,"pct":57.2},{"yr":2006.186,"pct":60.1},{"yr":2006.207,"pct":61.0},{"yr":2006.232,"pct":62.9},{"yr":2006.252,"pct":59.6},{"yr":2006.269,"pct":60.1},{"yr":2006.286,"pct":59.6},{"yr":2006.302,"pct":60.1},{"yr":2006.322,"pct":59.6},{"yr":2006.343,"pct":52.9},{"yr":2006.364,"pct":44.8},{"yr":2006.385,"pct":43.3},{"yr":2006.405,"pct":40.5},{"yr":2006.426,"pct":36.1},{"yr":2006.446,"pct":35.2},{"yr":2006.467,"pct":34.2},{"yr":2006.487,"pct":32.8},{"yr":2006.508,"pct":30.9},{"yr":2006.525,"pct":29.5},{"yr":2006.541,"pct":31.4},{"yr":2006.558,"pct":29.7},{"yr":2006.574,"pct":31.4},{"yr":2006.591,"pct":32.8},{"yr":2006.611,"pct":33.3},{"yr":2006.632,"pct":37.1},{"yr":2006.656,"pct":38.1},{"yr":2006.673,"pct":46.2},{"yr":2006.693,"pct":50.0},{"yr":2006.714,"pct":57.2},{"yr":2006.735,"pct":60.6},{"yr":2006.747,"pct":64.9},{"yr":2006.764,"pct":65.3},{"yr":2006.784,"pct":66.3},{"yr":2006.805,"pct":66.8},{"yr":2006.825,"pct":68.2},{"yr":2006.846,"pct":72.5},{"yr":2006.871,"pct":72.5},{"yr":2006.887,"pct":69.6},{"yr":2006.912,"pct":69.2},{"yr":2006.932,"pct":69.6},
{"yr":2006.974,"pct":69.4},{"yr":2006.999,"pct":69.2},{"yr":2007.015,"pct":70.1},{"yr":2007.040,"pct":70.3},{"yr":2007.056,"pct":72.5},{"yr":2007.077,"pct":74.1},{"yr":2007.093,"pct":76.1},{"yr":2007.114,"pct":75.9},{"yr":2007.130,"pct":68.2},{"yr":2007.147,"pct":66.5},{"yr":2007.167,"pct":63.9},{"yr":2007.180,"pct":61.0},{"yr":2007.196,"pct":64.6},{"yr":2007.213,"pct":64.2},{"yr":2007.229,"pct":64.4},{"yr":2007.250,"pct":63.6},{"yr":2007.262,"pct":67.7},{"yr":2007.278,"pct":69.2},{"yr":2007.303,"pct":67.4},{"yr":2007.332,"pct":67.7},{"yr":2007.353,"pct":68.2},{"yr":2007.373,"pct":69.4},{"yr":2007.386,"pct":69.6},{"yr":2007.406,"pct":67.4},{"yr":2007.427,"pct":66.8},{"yr":2007.443,"pct":63.4},{"yr":2007.460,"pct":61.5},{"yr":2007.476,"pct":61.0},{"yr":2007.497,"pct":59.8},{"yr":2007.517,"pct":51.0},{"yr":2007.538,"pct":41.0},{"yr":2007.559,"pct":37.1},{"yr":2007.579,"pct":31.9},{"yr":2007.600,"pct":28.2},{"yr":2007.620,"pct":32.3},{"yr":2007.641,"pct":32.3},{"yr":2007.661,"pct":31.1},{"yr":2007.682,"pct":43.3},{"yr":2007.703,"pct":42.4},{"yr":2007.723,"pct":50.0},{"yr":2007.744,"pct":53.1},{"yr":2007.764,"pct":50.0},{"yr":2007.785,"pct":45.7},{"yr":2007.806,"pct":37.6},{"yr":2007.827,"pct":30.4},{"yr":2007.847,"pct":30.4},{"yr":2007.868,"pct":25.1},{"yr":2007.888,"pct":28.0},{"yr":2007.909,"pct":30.9},{"yr":2007.930,"pct":30.4},{"yr":2007.950,"pct":27.1},{"yr":2007.971,"pct":21.3},{"yr":2007.991,"pct":9.3},{"yr":2008.012,"pct":8.7},{"yr":2008.028,"pct":21.3},{"yr":2008.045,"pct":30.9},{"yr":2008.061,"pct":35.7},{"yr":2008.078,"pct":33.3},{"yr":2008.094,"pct":34.1},{"yr":2008.115,"pct":32.8},{"yr":2008.136,"pct":32.3},{"yr":2008.160,"pct":22.8},{"yr":2008.185,"pct":34.7},{"yr":2008.201,"pct":40.9},{"yr":2008.218,"pct":46.2},{"yr":2008.234,"pct":44.1},{"yr":2008.259,"pct":47.2},{"yr":2008.284,"pct":50.0},{"yr":2008.300,"pct":52.9},{"yr":2008.321,"pct":49.5},{"yr":2008.342,"pct":57.5},{"yr":2008.362,"pct":47.6},{"yr":2008.383,"pct":48.6},{"yr":2008.404,"pct":49.1},{"yr":2008.424,"pct":40.6},{"yr":2008.440,"pct":38.2},{"yr":2008.457,"pct":29.0},{"yr":2008.473,"pct":23.3},{"yr":2008.494,"pct":18.0},{"yr":2008.515,"pct":29.9},{"yr":2008.535,"pct":41.9},{"yr":2008.552,"pct":41.9},{"yr":2008.568,"pct":51.9},{"yr":2008.589,"pct":65.8},{"yr":2008.605,"pct":57.7},{"yr":2008.622,"pct":60.1},{"yr":2008.638,"pct":59.6},{"yr":2008.659,"pct":60.7},{"yr":2008.680,"pct":60.1},{"yr":2008.696,"pct":56.2},{"yr":2008.713,"pct":50.0},{"yr":2008.729,"pct":30.9},{"yr":2008.746,"pct":14.6},{"yr":2008.754,"pct":3.3},{"yr":2008.766,"pct":6.5},{"yr":2008.783,"pct":4.1},{"yr":2008.804,"pct":32.8},{"yr":2008.824,"pct":35.7},{"yr":2008.840,"pct":21.3},{"yr":2008.861,"pct":6.9},{"yr":2008.877,"pct":29.0},{"yr":2008.894,"pct":50.5},{"yr":2008.915,"pct":53.4},{"yr":2008.931,"pct":60.1},{"yr":2008.952,"pct":55.8},{"yr":2008.968,"pct":61.5},{"yr":2008.989,"pct":63.9},{"yr":2009.001,"pct":55.8},{"yr":2009.013,"pct":46.2},{"yr":2009.034,"pct":41.4},{"yr":2009.051,"pct":39.0},{"yr":2009.067,"pct":43.8},{"yr":2009.084,"pct":42.4},{"yr":2009.100,"pct":33.3},{"yr":2009.117,"pct":29.9},{"yr":2009.133,"pct":22.3},{"yr":2009.146,"pct":17.0},{"yr":2009.162,"pct":27.1},{"yr":2009.179,"pct":45.2},{"yr":2009.199,"pct":56.7},{"yr":2009.216,"pct":65.8},{"yr":2009.236,"pct":69.2},{"yr":2009.257,"pct":78.3},{"yr":2009.277,"pct":80.6},{"yr":2009.294,"pct":83.0},{"yr":2009.306,"pct":84.5},{"yr":2009.323,"pct":80.2},{"yr":2009.343,"pct":73.5},{"yr":2009.364,"pct":73.5},{"yr":2009.380,"pct":74.0},{"yr":2009.397,"pct":78.7},{"yr":2009.413,"pct":76.3},{"yr":2009.430,"pct":68.7},{"yr":2009.447,"pct":65.8},{"yr":2009.459,"pct":62.98}
],
"info": [
{"yr":2001.469,"pct":53.2},{"yr":2001.485,"pct":47.5},{"yr":2001.506,"pct":43.7},{"yr":2001.527,"pct":45.5},{"yr":2001.543,"pct":49.1},{"yr":2001.560,"pct":54.8},{"yr":2001.576,"pct":52.2},{"yr":2001.593,"pct":44.4},{"yr":2001.613,"pct":42.9},{"yr":2001.638,"pct":39.8},{"yr":2001.654,"pct":25.2},{"yr":2001.675,"pct":23.1},{"yr":2001.687,"pct":10.7},{"yr":2001.700,"pct":7.1},{"yr":2001.716,"pct":10.7},{"yr":2001.733,"pct":39.8},{"yr":2001.753,"pct":54.1},{"yr":2001.766,"pct":52.4},{"yr":2001.782,"pct":57.4},{"yr":2001.803,"pct":58.4},{"yr":2001.823,"pct":66.7},{"yr":2001.844,"pct":69.3},{"yr":2001.860,"pct":68.0},{"yr":2001.872,"pct":67.8},{"yr":2001.885,"pct":67.8},{"yr":2001.901,"pct":79.7},{"yr":2001.926,"pct":72.9},{"yr":2001.943,"pct":64.1},{"yr":2001.963,"pct":66.7},{"yr":2001.980,"pct":73.5},{"yr":2001.996,"pct":76.6},{"yr":2002.012,"pct":70.9},{"yr":2002.029,"pct":62.6},{"yr":2002.046,"pct":55.8},{"yr":2002.066,"pct":52.7},{"yr":2002.079,"pct":35.1},{"yr":2002.099,"pct":35.6},{"yr":2002.116,"pct":26.3},{"yr":2002.136,"pct":29.4},{"yr":2002.153,"pct":61.5},{"yr":2002.174,"pct":62.1},{"yr":2002.194,"pct":61.0},{"yr":2002.215,"pct":59.5},{"yr":2002.231,"pct":52.2},{"yr":2002.248,"pct":43.4},{"yr":2002.264,"pct":51.7},{"yr":2002.281,"pct":44.9},{"yr":2002.297,"pct":35.6},{"yr":2002.318,"pct":31.7},{"yr":2002.334,"pct":42.9},{"yr":2002.347,"pct":48.6},{"yr":2002.367,"pct":40.8},{"yr":2002.388,"pct":33.5},{"yr":2002.408,"pct":25.2},{"yr":2002.429,"pct":18.0},{"yr":2002.450,"pct":20.1},{"yr":2002.470,"pct":19.0},{"yr":2002.491,"pct":21.1},{"yr":2002.511,"pct":22.7},{"yr":2002.524,"pct":19.0},{"yr":2002.536,"pct":12.8},{"yr":2002.553,"pct":16.9},{"yr":2002.573,"pct":19.0},{"yr":2002.590,"pct":34.1},{"yr":2002.606,"pct":42.9},{"yr":2002.623,"pct":52.2},{"yr":2002.639,"pct":48.1},{"yr":2002.656,"pct":39.2},{"yr":2002.668,"pct":38.2},{"yr":2002.685,"pct":29.4},{"yr":2002.705,"pct":20.1},{"yr":2002.722,"pct":16.4},{"yr":2002.738,"pct":14.9},{"yr":2002.759,"pct":20.1},{"yr":2002.779,"pct":29.4},{"yr":2002.804,"pct":47.0},{"yr":2002.828,"pct":56.4},{"yr":2002.845,"pct":57.4},{"yr":2002.862,"pct":67.8},{"yr":2002.882,"pct":75.5},{"yr":2002.903,"pct":72.9},{"yr":2002.923,"pct":64.7},{"yr":2002.944,"pct":60.5},{"yr":2002.964,"pct":58.4},{"yr":2002.985,"pct":57.4},{"yr":2003.006,"pct":62.1},{"yr":2003.026,"pct":53.2},{"yr":2003.047,"pct":40.3},{"yr":2003.067,"pct":35.1},{"yr":2003.088,"pct":34.1},{"yr":2003.109,"pct":33.5},{"yr":2003.129,"pct":33.0},{"yr":2003.150,"pct":32.0},{"yr":2003.171,"pct":30.4},{"yr":2003.191,"pct":43.4},{"yr":2003.224,"pct":43.9},{"yr":2003.249,"pct":44.4},{"yr":2003.265,"pct":50.1},{"yr":2003.282,"pct":56.4},{"yr":2003.303,"pct":61.5},{"yr":2003.323,"pct":65.7},{"yr":2003.340,"pct":68.8},{"yr":2003.356,"pct":67.2},{"yr":2003.377,"pct":75.5},{"yr":2003.397,"pct":81.8},{"yr":2003.414,"pct":80.2},{"yr":2003.430,"pct":79.2},{"yr":2003.451,"pct":77.6},{"yr":2003.472,"pct":76.1},{"yr":2003.488,"pct":80.2},{"yr":2003.508,"pct":77.6},{"yr":2003.529,"pct":78.1},{"yr":2003.546,"pct":77.1},{"yr":2003.562,"pct":78.7},{"yr":2003.575,"pct":70.9},{"yr":2003.591,"pct":71.4},{"yr":2003.611,"pct":81.2},{"yr":2003.636,"pct":81.2},{"yr":2003.653,"pct":85.9},{"yr":2003.686,"pct":85.9},{"yr":2003.706,"pct":82.3},{"yr":2003.727,"pct":76.1},{"yr":2003.748,"pct":78.1},{"yr":2003.768,"pct":76.6},{"yr":2003.789,"pct":70.4},{"yr":2003.809,"pct":76.1},{"yr":2003.830,"pct":76.1},{"yr":2003.851,"pct":70.4},{"yr":2003.871,"pct":70.4},{"yr":2003.891,"pct":65.2},{"yr":2003.912,"pct":63.6},{"yr":2003.933,"pct":61.5},{"yr":2003.953,"pct":64.1},{"yr":2003.974,"pct":65.2},{"yr":2003.995,"pct":77.1},{"yr":2004.023,"pct":83.3},{"yr":2004.044,"pct":80.7},{"yr":2004.065,"pct":75.0},{"yr":2004.085,"pct":76.1},{"yr":2004.106,"pct":74.0},{"yr":2004.126,"pct":67.8},{"yr":2004.147,"pct":69.3},{"yr":2004.159,"pct":61.5},
{"yr":2004.180,"pct":58.4},{"yr":2004.201,"pct":50.7},{"yr":2004.221,"pct":59.5},{"yr":2004.242,"pct":60.0},{"yr":2004.263,"pct":60.5},{"yr":2004.275,"pct":62.6},{"yr":2004.291,"pct":56.4},{"yr":2004.308,"pct":50.7},{"yr":2004.324,"pct":48.1},{"yr":2004.345,"pct":46.0},{"yr":2004.366,"pct":42.4},{"yr":2004.382,"pct":46.5},{"yr":2004.398,"pct":46.0},{"yr":2004.415,"pct":48.1},{"yr":2004.431,"pct":47.0},{"yr":2004.448,"pct":49.1},{"yr":2004.469,"pct":50.3},{"yr":2004.481,"pct":44.9},{"yr":2004.497,"pct":39.8},{"yr":2004.518,"pct":35.6},{"yr":2004.538,"pct":31.5},{"yr":2004.559,"pct":28.4},{"yr":2004.576,"pct":24.2},{"yr":2004.588,"pct":20.6},{"yr":2004.605,"pct":21.1},{"yr":2004.621,"pct":25.2},{"yr":2004.642,"pct":29.4},{"yr":2004.662,"pct":32.5},{"yr":2004.683,"pct":34.6},{"yr":2004.708,"pct":35.6},{"yr":2004.728,"pct":37.7},{"yr":2004.749,"pct":41.8},{"yr":2004.769,"pct":43.9},{"yr":2004.790,"pct":48.1},{"yr":2004.811,"pct":54.3},{"yr":2004.831,"pct":58.4},{"yr":2004.852,"pct":63.1},{"yr":2004.873,"pct":64.1},{"yr":2004.893,"pct":67.2},{"yr":2004.914,"pct":66.5},{"yr":2004.934,"pct":66.4},{"yr":2004.963,"pct":66.4},{"yr":2004.983,"pct":64.7},{"yr":2005.004,"pct":59.5},{"yr":2005.025,"pct":57.4},{"yr":2005.041,"pct":53.8},{"yr":2005.066,"pct":54.8},{"yr":2005.086,"pct":55.8},{"yr":2005.115,"pct":55.8},{"yr":2005.140,"pct":52.7},{"yr":2005.161,"pct":52.2},{"yr":2005.189,"pct":51.7},{"yr":2005.214,"pct":51.2},{"yr":2005.239,"pct":50.7},{"yr":2005.251,"pct":39.8},{"yr":2005.271,"pct":36.7},{"yr":2005.292,"pct":36.7},{"yr":2005.313,"pct":36.1},{"yr":2005.333,"pct":34.6},{"yr":2005.354,"pct":41.6},{"yr":2005.375,"pct":41.8},{"yr":2005.395,"pct":42.9},{"yr":2005.436,"pct":43.7},{"yr":2005.457,"pct":44.4},{"yr":2005.478,"pct":44.4},{"yr":2005.498,"pct":50.7},{"yr":2005.519,"pct":60.5},{"yr":2005.539,"pct":61.5},{"yr":2005.560,"pct":62.8},{"yr":2005.581,"pct":61.5},{"yr":2005.601,"pct":63.6},{"yr":2005.622,"pct":63.1},{"yr":2005.642,"pct":62.1},{"yr":2005.663,"pct":62.1},{"yr":2005.684,"pct":61.5},{"yr":2005.704,"pct":60.5},{"yr":2005.725,"pct":59.5},{"yr":2005.746,"pct":53.5},{"yr":2005.766,"pct":52.7},{"yr":2005.787,"pct":50.7},{"yr":2005.807,"pct":53.8},{"yr":2005.828,"pct":56.4},{"yr":2005.849,"pct":57.4},{"yr":2005.869,"pct":59.5},{"yr":2005.890,"pct":60.5},{"yr":2005.910,"pct":61.5},{"yr":2005.931,"pct":63.8},{"yr":2005.951,"pct":63.8},{"yr":2005.972,"pct":65.2},{"yr":2005.993,"pct":68.3},{"yr":2006.014,"pct":69.3},{"yr":2006.034,"pct":71.4},{"yr":2006.055,"pct":71.9},{"yr":2006.075,"pct":71.4},{"yr":2006.096,"pct":72.4},{"yr":2006.116,"pct":73.5},{"yr":2006.137,"pct":74.0},{"yr":2006.149,"pct":69.8},{"yr":2006.170,"pct":71.4},{"yr":2006.191,"pct":70.9},{"yr":2006.211,"pct":69.8},{"yr":2006.232,"pct":72.4},{"yr":2006.252,"pct":72.9},{"yr":2006.277,"pct":75.2},{"yr":2006.294,"pct":71.9},{"yr":2006.310,"pct":67.2},{"yr":2006.331,"pct":64.7},{"yr":2006.351,"pct":60.5},{"yr":2006.372,"pct":56.9},{"yr":2006.392,"pct":54.8},{"yr":2006.413,"pct":52.7},{"yr":2006.426,"pct":46.5},{"yr":2006.442,"pct":45.5},{"yr":2006.459,"pct":43.9},{"yr":2006.479,"pct":40.8},{"yr":2006.496,"pct":34.6},{"yr":2006.517,"pct":31.5},{"yr":2006.533,"pct":29.6},{"yr":2006.549,"pct":33.0},{"yr":2006.570,"pct":32.5},{"yr":2006.591,"pct":35.1},{"yr":2006.615,"pct":35.1},{"yr":2006.632,"pct":39.2},{"yr":2006.652,"pct":41.8},{"yr":2006.673,"pct":48.1},{"yr":2006.693,"pct":51.2},{"yr":2006.714,"pct":53.8},{"yr":2006.735,"pct":55.8},{"yr":2006.755,"pct":56.4},{"yr":2006.776,"pct":58.4},{"yr":2006.796,"pct":59.5},{"yr":2006.817,"pct":60.5},{"yr":2006.838,"pct":65.7},{"yr":2006.858,"pct":66.7},{"yr":2006.879,"pct":67.8},{"yr":2006.899,"pct":66.7},{"yr":2006.920,"pct":66.2},{"yr":2006.941,"pct":64.1},
{"yr":2006.961,"pct":63.1},{"yr":2006.982,"pct":62.1},{"yr":2007.003,"pct":63.6},{"yr":2007.015,"pct":59.5},{"yr":2007.036,"pct":58.4},{"yr":2007.052,"pct":56.1},{"yr":2007.073,"pct":57.4},{"yr":2007.089,"pct":58.4},{"yr":2007.106,"pct":61.5},{"yr":2007.118,"pct":66.2},{"yr":2007.134,"pct":63.6},{"yr":2007.155,"pct":62.6},{"yr":2007.180,"pct":60.5},{"yr":2007.196,"pct":62.6},{"yr":2007.217,"pct":62.6},{"yr":2007.237,"pct":61.5},{"yr":2007.254,"pct":63.6},{"yr":2007.270,"pct":68.3},{"yr":2007.291,"pct":73.5},{"yr":2007.303,"pct":76.9},{"yr":2007.324,"pct":76.9},{"yr":2007.344,"pct":76.3},{"yr":2007.365,"pct":76.9},{"yr":2007.386,"pct":76.1},{"yr":2007.402,"pct":73.8},{"yr":2007.423,"pct":75.5},{"yr":2007.443,"pct":77.1},{"yr":2007.464,"pct":79.4},{"yr":2007.484,"pct":79.4},{"yr":2007.505,"pct":80.4},{"yr":2007.526,"pct":79.7},{"yr":2007.542,"pct":76.1},{"yr":2007.559,"pct":71.9},{"yr":2007.571,"pct":64.1},{"yr":2007.583,"pct":57.9},{"yr":2007.600,"pct":50.7},{"yr":2007.612,"pct":55.3},{"yr":2007.633,"pct":55.3},{"yr":2007.653,"pct":53.2},{"yr":2007.670,"pct":53.2},{"yr":2007.690,"pct":56.4},{"yr":2007.711,"pct":58.4},{"yr":2007.723,"pct":62.1},{"yr":2007.744,"pct":64.9},{"yr":2007.764,"pct":66.2},{"yr":2007.785,"pct":66.7},{"yr":2007.806,"pct":66.2},{"yr":2007.822,"pct":50.1},{"yr":2007.839,"pct":42.4},{"yr":2007.855,"pct":35.6},{"yr":2007.872,"pct":35.1},{"yr":2007.888,"pct":35.1},{"yr":2007.909,"pct":34.1},{"yr":2007.930,"pct":32.0},{"yr":2007.950,"pct":34.1},{"yr":2007.971,"pct":29.4},{"yr":2007.991,"pct":20.1},{"yr":2008.012,"pct":12.3},{"yr":2008.032,"pct":7.6},{"yr":2008.053,"pct":11.8},{"yr":2008.074,"pct":14.4},{"yr":2008.094,"pct":14.9},{"yr":2008.115,"pct":21.1},{"yr":2008.136,"pct":24.2},{"yr":2008.156,"pct":24.7},{"yr":2008.177,"pct":23.7},{"yr":2008.197,"pct":21.1},{"yr":2008.218,"pct":25.2},{"yr":2008.239,"pct":28.9},{"yr":2008.259,"pct":27.3},{"yr":2008.280,"pct":38.2},{"yr":2008.300,"pct":50.1},{"yr":2008.321,"pct":51.7},{"yr":2008.342,"pct":57.4},{"yr":2008.362,"pct":54.8},{"yr":2008.383,"pct":55.8},{"yr":2008.404,"pct":51.7},{"yr":2008.424,"pct":52.2},{"yr":2008.445,"pct":47.0},{"yr":2008.465,"pct":41.8},{"yr":2008.486,"pct":35.6},{"yr":2008.507,"pct":29.9},{"yr":2008.527,"pct":29.9},{"yr":2008.548,"pct":27.3},{"yr":2008.568,"pct":31.5},{"yr":2008.589,"pct":38.7},{"yr":2008.610,"pct":39.8},{"yr":2008.630,"pct":38.2},{"yr":2008.651,"pct":32.5},{"yr":2008.671,"pct":27.3},{"yr":2008.692,"pct":22.7},{"yr":2008.713,"pct":18.0},{"yr":2008.733,"pct":6.6},{"yr":2008.746,"pct":0.2},{"yr":2008.762,"pct":14.4},{"yr":2008.783,"pct":5.5},{"yr":2008.804,"pct":28.4},{"yr":2008.824,"pct":36.1},{"yr":2008.840,"pct":19.0},{"yr":2008.857,"pct":9.7},{"yr":2008.873,"pct":22.1},{"yr":2008.894,"pct":23.7},{"yr":2008.911,"pct":39.8},{"yr":2008.931,"pct":62.1},{"yr":2008.948,"pct":61.0},{"yr":2008.964,"pct":69.8},{"yr":2008.985,"pct":76.1},{"yr":2009.001,"pct":79.4},{"yr":2009.018,"pct":62.1},{"yr":2009.034,"pct":58.9},{"yr":2009.055,"pct":58.9},{"yr":2009.076,"pct":58.9},{"yr":2009.092,"pct":61.5},{"yr":2009.109,"pct":38.2},{"yr":2009.125,"pct":35.1},{"yr":2009.146,"pct":29.9},{"yr":2009.166,"pct":36.7},{"yr":2009.187,"pct":48.6},{"yr":2009.207,"pct":58.4},{"yr":2009.224,"pct":67.2},{"yr":2009.240,"pct":71.4},{"yr":2009.257,"pct":74.5},{"yr":2009.277,"pct":79.2},{"yr":2009.290,"pct":81.2},{"yr":2009.306,"pct":83.8},{"yr":2009.323,"pct":84.6},{"yr":2009.339,"pct":81.8},{"yr":2009.356,"pct":79.4},{"yr":2009.372,"pct":82.3},{"yr":2009.393,"pct":84.4},{"yr":2009.409,"pct":85.2},{"yr":2009.422,"pct":87.7},{"yr":2009.434,"pct":87.7},{"yr":2009.447,"pct":86.4},{"yr":2009.459,"pct":84.34}
]
},
"title": {"text": "$BPNYA", "subtitle": "24-Jun-2009", "anchor": "start", "frame": "group", "font": "Liberation Sans", "fontSize": 13, "fontWeight": "bold", "color": "#000", "subtitleFont": "Liberation Sans", "subtitleFontSize": 10.5, "subtitleColor": "#000", "subtitlePadding": 3.5, "offset": 0, "dy": 25.5},
"bounds": "flush",
"spacing": 15,
"resolve": {"scale": {"x": "independent", "y": "independent", "color": "independent"}, "legend": {"color": "independent"}, "axis": {"x": "independent", "y": "independent"}},
"vconcat": [
   {
    "width": 651, "height": 296,
    "resolve": {"axis": {"x": "independent", "y": "independent"}},
    "layer": [
     {"data": {"values": [{"level": 10}, {"level": 75}]}, "mark": {"type": "rule", "strokeWidth": 1},
      "encoding": {"y": {"field": "level", "type": "quantitative", "axis": null},
        "color": {"datum": "HL(10.0, 75.0)", "type": "nominal",
          "scale": {"domain": ["$BPNYA (Weekly) 57.87", "HL(10.0, 75.0)"], "range": ["#000000", "#000080"]},
          "legend": {"encode": {"labels": {"update": {"fill": {"signal": "indexof(datum.label,'HL')==0 ? '#000080' : '#000000'"}}}}}}}},
     {"data": {"name": "nya"}, "mark": {"type": "line", "strokeWidth": 1.2},
      "encoding": {
        "x": {"field": "yr", "type": "quantitative", "scale": {"domain": [2001.461, 2009.514], "nice": false, "zero": false},
          "axis": {"values": [2001.496,2001.748,2002,2002.247,2002.496,2002.748,2003,2003.247,2003.496,2003.748,2004,2004.247,2004.496,2004.748,2005,2005.247,2005.496,2005.748,2006,2006.247,2006.496,2006.748,2007,2007.247,2007.496,2007.748,2008,2008.247,2008.496,2008.748,2009,2009.247],
            "labelOverlap": false,
            "labelExpr": "datum.value % 1 < 0.01 ? '0' + (floor(datum.value) - 2000) : (datum.value % 1 < 0.4 ? 'A' : (datum.value % 1 < 0.6 ? 'J' : 'O'))",
            "labelFontWeight": {"condition": {"test": "datum.value % 1 < 0.01", "value": "bold"}, "value": "normal"},
            "gridColor": {"condition": {"test": "datum.value % 1 < 0.01", "value": "#ababab"}, "value": "#d9d9d9"},
            "title": "(NYSE Bullish Percent Index (EOD)) INDX", "titleX": 54, "titleY": -312, "titleAngle": 0, "titleAlign": "left", "titleBaseline": "alphabetic", "titleFont": "Liberation Sans", "titleFontSize": 10.5, "titleFontWeight": "normal", "titleColor": "#000"}},
        "y": {"field": "pct", "type": "quantitative", "scale": {"domain": [0.58, 80.19], "nice": false, "zero": false},
          "axis": {"orient": "right", "labelOverlap": false, "values": [5,10,15,20,25,30,35,40,45,50,55,60,65,70,75],
            "title": ["© StockCharts.com", "Open 60.65\u00a0\u00a0\u00a0High 60.65\u00a0\u00a0\u00a0Low 57.87\u00a0\u00a0\u00a0Close 57.87\u00a0\u00a0\u00a0Chg -7.30 (-11.20%) ▼"], "titleX": 0, "titleY": -15, "titleAngle": 0, "titleAlign": "right", "titleBaseline": "alphabetic", "titleFont": "Liberation Sans", "titleFontSize": 10.5, "titleFontWeight": "normal", "titleColor": "#222", "titleLineHeight": 12}},
        "color": {"datum": "$BPNYA (Weekly) 57.87", "type": "nominal"}
      }}
    ]
   },
 {
  "bounds": "flush",
  "spacing": 5,
  "resolve": {"scale": {"x": "independent", "y": "independent", "color": "independent"}, "legend": {"color": "independent"}, "axis": {"x": "independent", "y": "independent"}},
  "vconcat": [
   {
    "width": 651, "height": 292,
    "resolve": {"axis": {"x": "independent", "y": "independent"}},
    "layer": [
     {"data": {"values": [{"level": 10}, {"level": 90}]}, "mark": {"type": "rule", "strokeWidth": 1},
      "encoding": {"y": {"field": "level", "type": "quantitative", "axis": null},
        "color": {"datum": "HL(10.0, 90.0)", "type": "nominal",
          "scale": {"domain": ["$BPFINA (Weekly) 48.75", "HL(10.0, 90.0)"], "range": ["#000000", "#000080"]},
          "legend": {"encode": {"labels": {"update": {"fill": {"signal": "indexof(datum.label,'HL')==0 ? '#000080' : '#000000'"}}}}}}}},
     {"data": {"name": "fina"}, "mark": {"type": "line", "strokeWidth": 1.2},
      "encoding": {
        "x": {"field": "yr", "type": "quantitative", "scale": {"domain": [2001.461, 2009.514], "nice": false, "zero": false},
          "axis": {"values": [2001.496,2001.748,2002,2002.247,2002.496,2002.748,2003,2003.247,2003.496,2003.748,2004,2004.247,2004.496,2004.748,2005,2005.247,2005.496,2005.748,2006,2006.247,2006.496,2006.748,2007,2007.247,2007.496,2007.748,2008,2008.247,2008.496,2008.748,2009,2009.247],
            "labels": false, "title": null,
            "gridColor": {"condition": {"test": "datum.value % 1 < 0.01", "value": "#ababab"}, "value": "#d9d9d9"}}},
        "y": {"field": "pct", "type": "quantitative", "scale": {"domain": [-0.68, 100.9], "nice": false, "zero": false},
          "axis": {"orient": "right", "labelOverlap": false, "title": null, "values": [0,10,20,30,40,50,60,70,80,90]}},
        "color": {"datum": "$BPFINA (Weekly) 48.75", "type": "nominal"}
      }}
    ]
   },
   {
    "width": 651, "height": 293,
    "resolve": {"axis": {"x": "independent", "y": "independent"}},
    "layer": [
     {"data": {"values": [{"level": 15}, {"level": 75}]}, "mark": {"type": "rule", "strokeWidth": 1},
      "encoding": {"y": {"field": "level", "type": "quantitative", "axis": null},
        "color": {"datum": "HL(15.0, 75.0)", "type": "nominal",
          "scale": {"domain": ["$BPDISC (Weekly) 62.98", "HL(15.0, 75.0)"], "range": ["#000000", "#000080"]},
          "legend": {"encode": {"labels": {"update": {"fill": {"signal": "indexof(datum.label,'HL')==0 ? '#000080' : '#000000'"}}}}}}}},
     {"data": {"name": "disc"}, "mark": {"type": "line", "strokeWidth": 1.2},
      "encoding": {
        "x": {"field": "yr", "type": "quantitative", "scale": {"domain": [2001.461, 2009.514], "nice": false, "zero": false},
          "axis": {"values": [2001.496,2001.748,2002,2002.247,2002.496,2002.748,2003,2003.247,2003.496,2003.748,2004,2004.247,2004.496,2004.748,2005,2005.247,2005.496,2005.748,2006,2006.247,2006.496,2006.748,2007,2007.247,2007.496,2007.748,2008,2008.247,2008.496,2008.748,2009,2009.247],
            "labels": false, "title": null,
            "gridColor": {"condition": {"test": "datum.value % 1 < 0.01", "value": "#ababab"}, "value": "#d9d9d9"}}},
        "y": {"field": "pct", "type": "quantitative", "scale": {"domain": [2.45, 86.57], "nice": false, "zero": false},
          "axis": {"orient": "right", "labelOverlap": false, "title": null, "values": [5,10,15,20,25,30,35,40,45,50,55,60,65,70,75,80,85]}},
        "color": {"datum": "$BPDISC (Weekly) 62.98", "type": "nominal"}
      }}
    ]
   },
   {
    "width": 651, "height": 296,
    "resolve": {"axis": {"x": "independent", "y": "independent"}},
    "layer": [
     {"data": {"values": [{"level": 10}, {"level": 80}]}, "mark": {"type": "rule", "strokeWidth": 1},
      "encoding": {"y": {"field": "level", "type": "quantitative", "axis": null},
        "color": {"datum": "HL(10.0, 80.0)", "type": "nominal",
          "scale": {"domain": ["$BPINFO (Weekly) 84.34", "HL(10.0, 80.0)"], "range": ["#000000", "#000080"]},
          "legend": {"encode": {"labels": {"update": {"fill": {"signal": "indexof(datum.label,'HL')==0 ? '#000080' : '#000000'"}}}}}}}},
     {"data": {"name": "info"}, "mark": {"type": "line", "strokeWidth": 1.2},
      "encoding": {
        "x": {"field": "yr", "type": "quantitative", "scale": {"domain": [2001.461, 2009.514], "nice": false, "zero": false},
          "axis": {"values": [2001.496,2001.748,2002,2002.247,2002.496,2002.748,2003,2003.247,2003.496,2003.748,2004,2004.247,2004.496,2004.748,2005,2005.247,2005.496,2005.748,2006,2006.247,2006.496,2006.748,2007,2007.247,2007.496,2007.748,2008,2008.247,2008.496,2008.748,2009,2009.247],
            "title": null, "labelOverlap": false,
            "labelExpr": "datum.value % 1 < 0.01 ? '0' + (floor(datum.value) - 2000) : (datum.value % 1 < 0.4 ? 'A' : (datum.value % 1 < 0.6 ? 'J' : 'O'))",
            "labelFontWeight": {"condition": {"test": "datum.value % 1 < 0.01", "value": "bold"}, "value": "normal"},
            "gridColor": {"condition": {"test": "datum.value % 1 < 0.01", "value": "#ababab"}, "value": "#d9d9d9"}}},
        "y": {"field": "pct", "type": "quantitative", "scale": {"domain": [-2.36, 89.74], "nice": false, "zero": false},
          "axis": {"orient": "right", "labelOverlap": false, "title": null, "values": [0,5,10,15,20,25,30,35,40,45,50,55,60,65,70,75,80,85]}},
        "color": {"datum": "$BPINFO (Weekly) 84.34", "type": "nominal"}
      }},
     {"data": {"values": [{"from": 2008.22, "to": 2009.12, "low": 82.7, "high": 87.0}]}, "mark": {"type": "rect", "fill": "#a0a0a0", "opacity": 0.7},
      "encoding": {"x": {"field": "from", "type": "quantitative", "axis": null}, "x2": {"field": "to"}, "y": {"field": "low", "type": "quantitative", "axis": null}, "y2": {"field": "high"}}},
     {"data": {"values": [{"from": 2008.20, "to": 2009.10, "low": 83.3, "high": 87.6}]}, "mark": {"type": "rect", "fill": "#ffffff", "stroke": "#8a8a8a", "strokeWidth": 1},
      "encoding": {"x": {"field": "from", "type": "quantitative", "axis": null}, "x2": {"field": "to"}, "y": {"field": "low", "type": "quantitative", "axis": null}, "y2": {"field": "high"}}},
     {"data": {"values": [{"from": 2009.10, "to": 2009.28, "start": 84.2, "end": 80.0}]}, "mark": {"type": "rule", "stroke": "#8a8a8a", "strokeWidth": 1},
      "encoding": {"x": {"field": "from", "type": "quantitative", "axis": null}, "x2": {"field": "to"}, "y": {"field": "start", "type": "quantitative", "axis": null}, "y2": {"field": "end"}}},
     {"data": {"values": [{"yr": 2008.65, "pct": 85.45, "note": "Overbought."}]}, "mark": {"type": "text", "color": "#ff0000", "fontWeight": "bold", "fontSize": 11.5, "font": "Liberation Sans", "align": "center", "baseline": "middle"},
      "encoding": {"x": {"field": "yr", "type": "quantitative", "axis": null}, "y": {"field": "pct", "type": "quantitative", "axis": null}, "text": {"field": "note"}}}
    ]
   }
  ]
 }
]
}
